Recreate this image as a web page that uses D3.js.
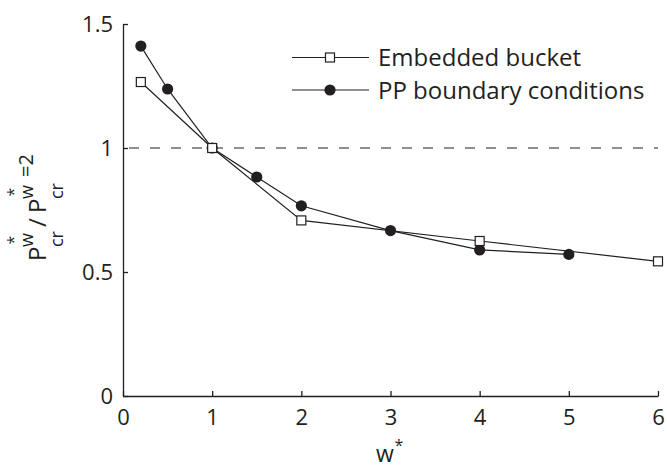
<!DOCTYPE html>
<html><head><meta charset="utf-8">
<script src="https://cdn.jsdelivr.net/npm/d3@7"></script>
<style>
html,body{margin:0;padding:0;background:#fff;}
svg{display:block;font-family:"Open Sans",sans-serif;}
</style></head>
<body>
<svg id="c" width="667" height="468"></svg>
<script>
// ---- data ----
const xTicks = [0, 1, 2, 3, 4, 5, 6];
const yTicks = [0, 0.5, 1, 1.5];
const seriesNames = ["Embedded bucket", "PP boundary conditions"];
const bucketX = [0.2, 1, 2, 4, 6];
const bucketY = [1.266, 1.0, 0.708, 0.625, 0.543];
const ppX = [0.2, 0.5, 1, 1.5, 2, 3, 4, 5];
const ppY = [1.411, 1.238, 1.0, 0.883, 0.767, 0.667, 0.589, 0.571];
const refLevel = [1];

const ink = "#231f20";
const svg = d3.select("#c");
const x = d3.scaleLinear().domain([0, 6]).range([123, 658]);
const y = d3.scaleLinear().domain([0, 1.5]).range([396, 24]);

// axes
const xAxis = d3.axisBottom(x).tickValues(xTicks).tickSizeInner(-5).tickSizeOuter(0).tickFormat(d3.format("d"));
const yAxis = d3.axisLeft(y).tickValues(yTicks).tickSizeInner(-5).tickSizeOuter(0).tickFormat(d => d === 0 || d === 1 ? d3.format("d")(d) : d3.format(".1f")(d));

const gx = svg.append("g").attr("transform", `translate(0,${y(0)})`).call(xAxis);
const gy = svg.append("g").attr("transform", `translate(${x(0)},0)`).call(yAxis);
[gx, gy].forEach(g => {
  g.select(".domain").attr("stroke", ink).attr("stroke-width", 1.3);
  g.selectAll(".tick line").attr("stroke", ink).attr("stroke-width", 1.3);
  g.selectAll(".tick text").attr("fill", ink).style("font-size", "22px").style("font-family", '"Open Sans",sans-serif');
});
gx.selectAll(".tick text").attr("y", 13).attr("dy", "0.71em");
gy.selectAll(".tick text").attr("x", -10).attr("dy", "0.36em");

// dashed reference line
svg.selectAll("line.ref").data(refLevel).enter().append("line")
  .attr("x1", x(0)).attr("x2", x(6)).attr("y1", d => y(d)).attr("y2", d => y(d))
  .attr("stroke", ink).attr("stroke-width", 1.2).attr("stroke-dasharray", "10,11").attr("stroke-dashoffset", -6);

const line = d3.line().x(d => x(d[0])).y(d => y(d[1]));
const bucket = bucketX.map((v, i) => [v, bucketY[i]]);
const pp = ppX.map((v, i) => [v, ppY[i]]);

svg.append("path").datum(bucket).attr("d", line).attr("fill", "none").attr("stroke", ink).attr("stroke-width", 1.2);
svg.append("path").datum(pp).attr("d", line).attr("fill", "none").attr("stroke", ink).attr("stroke-width", 1.2);

const sq = 9;
function drawCircles(sel, data) {
  sel.selectAll("circle.pp").data(data).enter().append("circle")
    .attr("cx", d => x(d[0])).attr("cy", d => y(d[1])).attr("r", 5.6).attr("fill", ink);
}
function drawSquares(sel, data) {
  sel.selectAll("rect.eb").data(data).enter().append("rect")
    .attr("x", d => x(d[0]) - sq / 2).attr("y", d => y(d[1]) - sq / 2)
    .attr("width", sq).attr("height", sq).attr("fill", "#fff").attr("stroke", ink).attr("stroke-width", 1.2);
}
drawCircles(svg.append("g"), pp);
drawSquares(svg.append("g"), bucket);

// legend
const legY = [57.5, 90];
const lg = svg.append("g");
legY.forEach((ly, i) => {
  lg.append("line").attr("x1", 292).attr("x2", 369).attr("y1", ly).attr("y2", ly).attr("stroke", ink).attr("stroke-width", 1.2);
  if (i === 0) {
    lg.append("rect").attr("x", 330 - sq / 2).attr("y", ly - sq / 2).attr("width", sq).attr("height", sq)
      .attr("fill", "#fff").attr("stroke", ink).attr("stroke-width", 1.2);
  } else {
    lg.append("circle").attr("cx", 330).attr("cy", ly).attr("r", 5.6).attr("fill", ink);
  }
  lg.append("text").attr("x", 378).attr("y", ly).attr("dy", "0.36em").attr("fill", ink)
    .style("font-size", "24px").text(seriesNames[i]);
});

// x label
svg.append("text").attr("x", 376).attr("y", 462).attr("fill", ink).style("font-size", "23px").text("w");
svg.append("text").attr("x", 399).attr("y", 451).attr("text-anchor", "middle").attr("fill", ink).style("font-size", "16px").text("*");

// y label (rotated): u runs upward along the label, v is across (negative = left)
const yl = svg.append("g").attr("transform", "translate(46,261) rotate(-90)").attr("fill", ink);
function piece(txt, u, v, fs, anchor) {
  const t = yl.append("text").attr("x", u).attr("y", v).style("font-size", fs + "px").text(txt);
  if (anchor) t.attr("text-anchor", anchor);
  return t.node().getComputedTextLength();
}
function pw(u0, supTxt, supU) {
  piece("P", u0, 0, 24);
  const w1 = piece("w", u0 + 14, -13, 18);
  piece("cr", u0 + 14, 17, 18);
  piece("*", u0 + 14 + w1 / 2, -27, 16, "middle");
  if (supTxt) piece(supTxt, supU, -13, 20);
}
pw(0, null);
piece("/", 34, 0, 24);
pw(48, "=2", 84);
</script>
</body></html>
